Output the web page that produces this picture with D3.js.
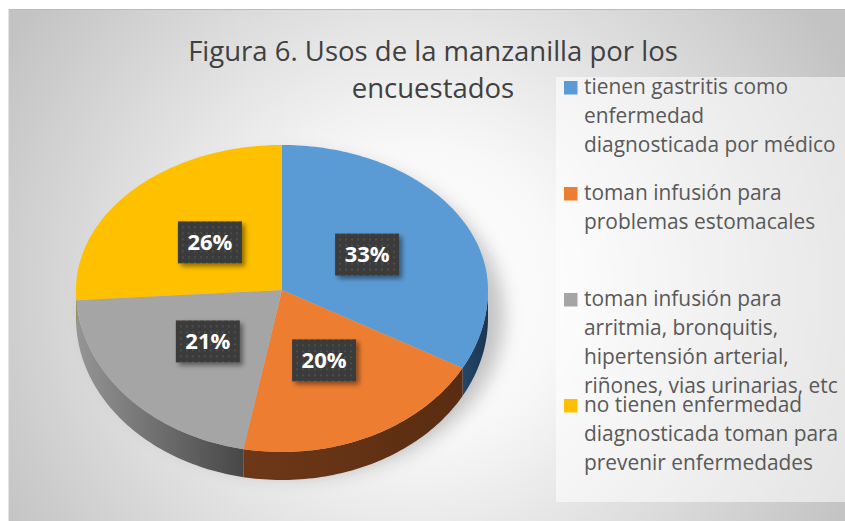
<!DOCTYPE html>
<html>
<head>
<meta charset="utf-8">
<script src="https://cdn.jsdelivr.net/npm/d3@7"></script>
<style>
  body { margin: 0; background: #fff; }
  svg { display: block; }
</style>
</head>
<body>
<div id="chart"></div>
<script>
// data
const titleLines = ["Figura 6. Usos de la manzanilla por los", "encuestados"];
const categories = [
  "tienen gastritis como\nenfermedad\ndiagnosticada por médico",
  "toman infusión para\nproblemas estomacales",
  "toman infusión para\narritmia, bronquitis,\nhipertensión arterial,\nriñones, vias urinarias, etc",
  "no tienen enfermedad\ndiagnosticada toman para\nprevenir enfermedades"
];
const values = [33, 20, 21, 26];
const colors = ["#5b9bd5", "#ed7d31", "#a5a5a5", "#ffc000"];
const sideColors = [["#24476a", "#1b3550"], ["#6e3818", "#5a2c11"], ["#959595", "#474747"], ["#b38600", "#7a5c00"]];

const W = 845, H = 521;
const depth = 28;

const svg = d3.select("#chart")
  .append("svg")
  .attr("width", W)
  .attr("height", H);

const defs = svg.append("defs");

const bg = defs.append("radialGradient")
  .attr("id", "bg")
  .attr("gradientUnits", "userSpaceOnUse")
  .attr("cx", 420).attr("cy", 290).attr("r", 480);
bg.append("stop").attr("offset", 0).attr("stop-color", "#ffffff");
bg.append("stop").attr("offset", 0.3).attr("stop-color", "#f8f8f8");
bg.append("stop").attr("offset", 1).attr("stop-color", "#c3c3c3");

const dots = defs.append("pattern")
  .attr("id", "dots")
  .attr("patternUnits", "userSpaceOnUse")
  .attr("width", 6).attr("height", 6);
dots.append("rect").attr("width", 6).attr("height", 6).attr("fill", "#3a3a3a");
dots.append("circle").attr("cx", 3).attr("cy", 3).attr("r", 0.9).attr("fill", "#575757");

const boxShadow = defs.append("filter").attr("id", "boxShadow")
  .attr("x", "-30%").attr("y", "-30%").attr("width", "160%").attr("height", "160%");
boxShadow.append("feDropShadow")
  .attr("dx", 3).attr("dy", 3).attr("stdDeviation", 2.5)
  .attr("flood-color", "#000").attr("flood-opacity", 0.45);

const blur = defs.append("filter").attr("id", "blur")
  .attr("x", "-30%").attr("y", "-30%").attr("width", "160%").attr("height", "160%");
blur.append("feGaussianBlur").attr("stdDeviation", 9);

// panel background
svg.append("rect")
  .attr("x", 9).attr("y", 9)
  .attr("width", W - 9).attr("height", H - 9)
  .attr("fill", "url(#bg)");
svg.append("line")
  .attr("x1", 9).attr("x2", W).attr("y1", 9.5).attr("y2", 9.5)
  .attr("stroke", "#bcbcbc");
svg.append("line")
  .attr("x1", 8.5).attr("x2", 8.5).attr("y1", 9).attr("y2", H)
  .attr("stroke", "#e4e4e4");

// title
svg.append("text")
  .attr("x", 433)
  .attr("y", 61)
  .attr("text-anchor", "middle")
  .attr("fill", "#404040")
  .style("font-family", "'Open Sans', sans-serif")
  .style("font-size", "27.5px")
  .selectAll("tspan")
  .data(titleLines)
  .join("tspan")
  .attr("x", 433)
  .attr("dy", (d, i) => i === 0 ? 0 : 37)
  .text(d => d);

// legend
const legendTop = 94, legendStep = 106, lineH = 29;
svg.append("rect")
  .attr("x", 556).attr("y", 77)
  .attr("width", W - 556).attr("height", 425)
  .attr("fill", "#ffffff")
  .attr("fill-opacity", 0.55);

const legend = svg.append("g")
  .selectAll("g")
  .data(categories)
  .join("g")
  .attr("transform", (d, i) => `translate(564,${legendTop + i * legendStep})`);

legend.append("rect")
  .attr("x", 0).attr("y", -13)
  .attr("width", 13.5).attr("height", 13.5)
  .attr("fill", (d, i) => colors[i]);

legend.append("text")
  .attr("fill", "#595959")
  .style("font-family", "'Open Sans', sans-serif")
  .style("font-size", "20.9px")
  .selectAll("tspan")
  .data(d => d.split("\n"))
  .join("tspan")
  .attr("x", 20)
  .attr("y", (d, i) => i * lineH)
  .text(d => d);

// 3d pie, projected
const cx = 282, cy = 290;
const xs = d3.scaleLinear().domain([-1, 1]).range([76, 488]);
const yUp = d3.scaleLinear().domain([0, 1]).range([cy, 145]);
const yDown = d3.scaleLinear().domain([0, -1]).range([cy, 452]);

function proj(a, r = 1) {
  const s = Math.sin(a) * r, c = Math.cos(a) * r;
  return [xs(s), c >= 0 ? yUp(c) : yDown(c)];
}

function arcPts(a0, a1) {
  const n = Math.max(2, Math.ceil((a1 - a0) / 0.02));
  return d3.range(n + 1).map(k => proj(a0 + (a1 - a0) * k / n));
}

const arcs = d3.pie().sort(null).value(d => d)(values);

// soft shadow under the pie
svg.append("ellipse")
  .attr("cx", cx + 14).attr("cy", cy + 26)
  .attr("rx", 208).attr("ry", 160)
  .attr("fill", "#000")
  .attr("fill-opacity", 0.22)
  .attr("filter", "url(#blur)");

const line = d3.line();

// side walls, only the front half (90deg..270deg) shows
arcs.forEach((d, i) => {
  const a0 = Math.max(d.startAngle, Math.PI / 2);
  const a1 = Math.min(d.endAngle, Math.PI * 1.5);
  if (a1 <= a0) return;
  const top = arcPts(a0, a1);
  const bottom = top.map(p => [p[0], p[1] + depth]).reverse();
  const gid = "side" + i;
  const xsPts = top.map(p => p[0]);
  const g = defs.append("linearGradient")
    .attr("id", gid)
    .attr("gradientUnits", "userSpaceOnUse")
    .attr("x1", d3.min(xsPts)).attr("x2", d3.max(xsPts))
    .attr("y1", 0).attr("y2", 0);
  g.append("stop").attr("offset", 0).attr("stop-color", sideColors[i][0]);
  g.append("stop").attr("offset", 1).attr("stop-color", sideColors[i][1]);
  svg.append("path")
    .attr("d", line(top.concat(bottom)) + "Z")
    .attr("fill", `url(#${gid})`);
});

// top faces
svg.append("g")
  .selectAll("path")
  .data(arcs)
  .join("path")
  .attr("d", d => line([[cx, cy]].concat(arcPts(d.startAngle, d.endAngle))) + "Z")
  .attr("fill", (d, i) => colors[i]);

// data labels
const labels = svg.append("g")
  .selectAll("g")
  .data(arcs)
  .join("g")
  .attr("transform", d => {
    const p = proj((d.startAngle + d.endAngle) / 2, 0.48);
    return `translate(${p[0]},${p[1]})`;
  });

labels.append("rect")
  .attr("x", -32).attr("y", -21)
  .attr("width", 64).attr("height", 42)
  .attr("fill", "url(#dots)")
  .attr("filter", "url(#boxShadow)");

labels.append("text")
  .attr("text-anchor", "middle")
  .attr("dy", "0.36em")
  .attr("fill", "#ffffff")
  .style("font-family", "'Open Sans', sans-serif")
  .style("font-weight", "bold")
  .style("font-size", "22px")
  .text(d => d.data + "%");
</script>
</body>
</html>
